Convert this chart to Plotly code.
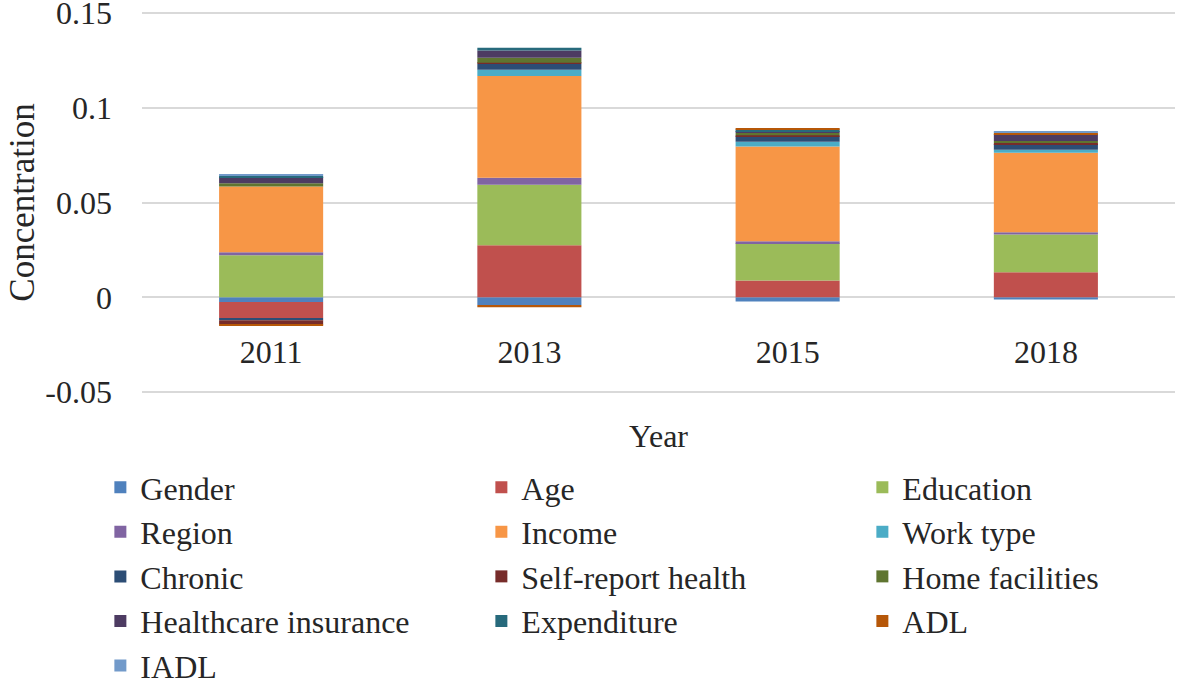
import plotly.graph_objects as go

years = ["2011", "2013", "2015", "2018"]

series_names = ["Gender", "Age", "Education", "Region", "Income", "Work type",
                "Chronic", "Self-report health", "Home facilities",
                "Healthcare insurance", "Expenditure", "ADL", "IADL"]

gender = [-0.0025, -0.0040, -0.0022, -0.0012]
age = [-0.0084, 0.0274, 0.0088, 0.0132]
education = [0.0222, 0.0320, 0.0197, 0.0199]
region = [0.0016, 0.0037, 0.0010, 0.0012]
income = [0.0347, 0.0536, 0.0500, 0.0420]
work_type = [0.0000, 0.0033, 0.0025, 0.0015]
chronic = [-0.0012, 0.0032, 0.0030, 0.0030]
self_report = [-0.0023, 0.0005, 0.0005, 0.0006]
home_fac = [0.0017, 0.0026, 0.0012, 0.0010]
insurance = [0.0032, 0.0039, 0.0010, 0.0032]
expenditure = [0.0006, 0.0014, 0.0008, 0.0004]
adl = [-0.0008, -0.0012, 0.0008, 0.0008]
iadl = [0.0007, 0.0000, 0.0000, 0.0005]

values = [gender, age, education, region, income, work_type, chronic,
          self_report, home_fac, insurance, expenditure, adl, iadl]

colors = ["#4F81BD", "#C0504D", "#9BBB59", "#8064A2", "#F79646", "#4BACC6",
          "#2C4D75", "#772C2A", "#5F7530", "#4D3B62", "#276A7C", "#B65708",
          "#729ACA"]

y_ticks = [-0.05, 0, 0.05, 0.1, 0.15]
y_tick_text = ["-0.05", "0", "0.05", "0.1", "0.15"]

FONT = "Liberation Serif, Times New Roman, serif"
TXT = "#262626"

fig = go.Figure()
for name, vals, col in zip(series_names, values, colors):
    fig.add_trace(go.Bar(x=years, y=vals, name=name,
                         marker=dict(color=col, line=dict(width=0))))

fig.update_layout(
    width=1180, height=680,
    barmode="relative",
    bargap=0.597,
    paper_bgcolor="white", plot_bgcolor="white",
    font=dict(family=FONT, size=32, color=TXT),
    margin=dict(l=142, r=5, t=11, b=286, autoexpand=False),
    showlegend=True,
    legend=dict(orientation="h", x=-0.0403, y=-0.172, xanchor="left", yanchor="top",
                entrywidth=336, entrywidthmode="pixels",
                font=dict(family=FONT, size=32, color=TXT),
                traceorder="normal", itemclick=False, itemdoubleclick=False),
    xaxis=dict(type="category", range=[-0.5, 3.5], anchor="free", position=0.167,
               showline=False, showgrid=False, ticks="",
               tickfont=dict(family=FONT, size=32, color=TXT),
               title=dict(text="Year", standoff=55,
                          font=dict(family=FONT, size=32, color=TXT))),
    yaxis=dict(range=[-0.051, 0.151], tickvals=y_ticks, ticktext=y_tick_text,
               showgrid=True, gridcolor="#D9D9D9", gridwidth=2,
               zeroline=True, zerolinecolor="#D9D9D9", zerolinewidth=2,
               showline=False, ticks="", ticklabelstandoff=29,
               ticklabeloverflow="allow",
               tickfont=dict(family=FONT, size=32, color=TXT),
               title=dict(text="Concentration", standoff=0,
                          font=dict(family=FONT, size=35, color=TXT))),
)

fig.write_html("out.html",
               config={"displayModeBar": False},
               post_script="document.body.style.margin='0';")
